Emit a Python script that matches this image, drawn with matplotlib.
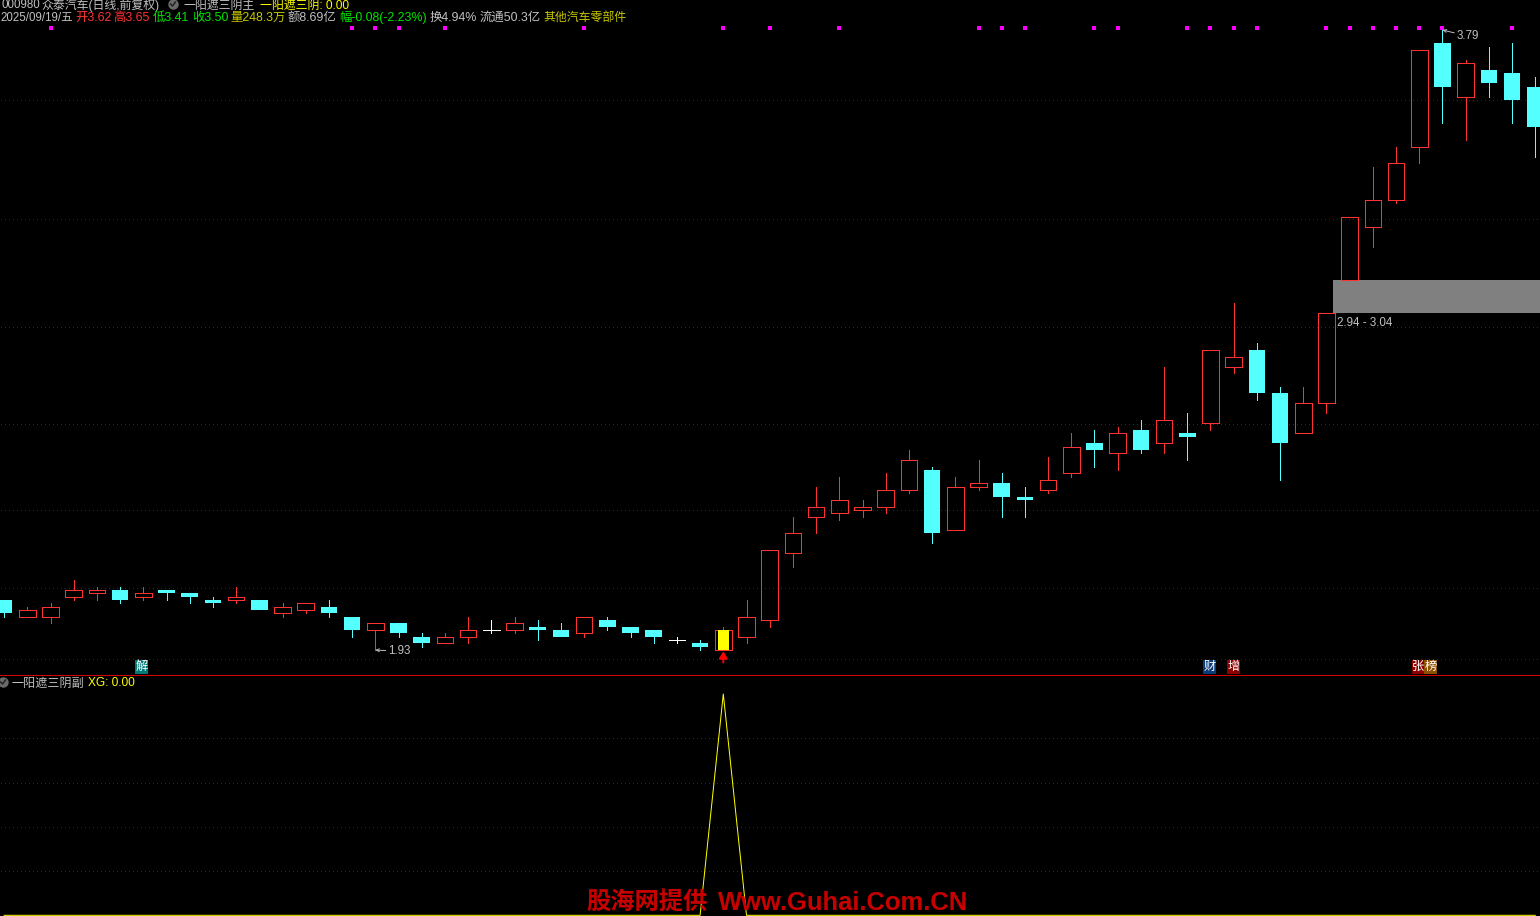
import matplotlib
matplotlib.use("Agg")
import matplotlib.pyplot as plt
from matplotlib.patches import Rectangle

# ---- data ----
opens = [2.08,2.03,2.03,2.09,2.10,2.11,2.09,2.11,2.10,2.08,2.08,2.08,2.04,2.05,2.06,2.03,1.99,2.01,1.97,1.95,
         1.97,1.99,1.99,2.00,1.99,1.98,2.02,2.00,1.99,1.96,1.95,1.93,1.97,2.02,2.22,2.33,2.34,2.35,2.36,2.41,
         2.47,2.29,2.42,2.43,2.39,2.41,2.46,2.55,2.52,2.59,2.55,2.58,2.61,2.78,2.83,2.70,2.58,2.67,3.04,3.20,
         3.28,3.44,3.75,3.59,3.67,3.66,3.62]
closes = [2.04,2.05,2.06,2.11,2.11,2.08,2.10,2.10,2.09,2.07,2.09,2.05,2.06,2.07,2.04,1.99,2.01,1.98,1.95,1.97,
          1.99,1.99,2.01,1.99,1.97,2.03,2.00,1.98,1.97,1.96,1.94,1.99,2.03,2.23,2.28,2.36,2.38,2.36,2.41,2.50,
          2.28,2.42,2.43,2.39,2.38,2.44,2.54,2.53,2.58,2.53,2.62,2.57,2.83,2.81,2.70,2.55,2.67,2.94,3.23,3.28,
          3.39,3.73,3.62,3.69,3.63,3.58,3.50]
highs = [2.08,2.06,2.07,2.14,2.12,2.12,2.12,2.11,2.10,2.09,2.12,2.08,2.07,2.07,2.08,2.03,2.01,2.01,1.98,1.98,
         2.03,2.02,2.03,2.02,2.01,2.03,2.03,2.00,1.99,1.97,1.96,2.00,2.08,2.23,2.33,2.42,2.45,2.38,2.46,2.53,
         2.48,2.45,2.50,2.46,2.42,2.51,2.58,2.59,2.60,2.62,2.78,2.64,2.83,2.97,2.85,2.72,2.72,2.94,3.23,3.38,
         3.44,3.73,3.79,3.70,3.74,3.75,3.65]
lows = [2.03,2.03,2.01,2.08,2.08,2.07,2.08,2.08,2.07,2.06,2.07,2.05,2.03,2.04,2.03,1.97,1.93,1.97,1.94,1.95,
        1.95,1.98,1.98,1.96,1.97,1.97,1.99,1.97,1.95,1.95,1.93,1.93,1.95,2.00,2.18,2.28,2.32,2.33,2.34,2.40,
        2.25,2.29,2.41,2.33,2.33,2.40,2.45,2.48,2.47,2.52,2.52,2.50,2.59,2.76,2.68,2.44,2.58,2.64,3.04,3.14,
        3.27,3.39,3.51,3.46,3.59,3.51,3.41]
signal_idx = [2,15,16,17,19,25,31,33,36,42,43,44,47,48,51,52,53,54,57,58,59,60,61,62,65]
grid_prices = [3.579,3.223,2.898,2.609,2.349,2.115,1.902]
xg_values = [0]*31 + [1] + [0]*35
xg_grid = [0.2,0.4,0.6,0.8]
selected_candle = 31
gap_low, gap_high = 2.94, 3.04
# ------------------------------------

RED = '#ff3232'; CYAN = '#54ffff'; GRIDC = '#960000'; GRAY = '#c0c0c0'
W, H = 1540, 916
PX = 0.72
LW = 0.72
CJK = ['Liberation Sans', 'Noto Sans CJK SC', 'DejaVu Sans']
plt.rcParams['font.family'] = CJK

fig = plt.figure(figsize=(W/100, H/100), dpi=100, facecolor='black')
ax = fig.add_axes([0, (H-674)/H, 1, 674/H], facecolor='black')
ax2 = fig.add_axes([0, 0, 1, 241/H], facecolor='black')
ov = fig.add_axes([0, 0, 1, 1]); ov.set_xlim(0, W); ov.set_ylim(H, 0); ov.axis('off'); ov.patch.set_alpha(0)

xlim = (-4.1/23.2, (W-4.1)/23.2)
ax.set_xlim(*xlim); ax.set_ylim(3.88-0.003*674, 3.88)
ax2.set_xlim(*xlim); ax2.set_ylim(-0.7/221.3, 1+19/221.3)
for a in (ax, ax2):
    a.axis('off')

def grid(a, v):
    a.axhline(v, color=GRIDC, lw=PX, ls=(3, (1, 3)), dash_capstyle='butt', antialiased=False, zorder=1)
for v in grid_prices:
    grid(ax, v)
for v in xg_grid:
    grid(ax2, v)

ax.add_patch(Rectangle((57.3, gap_low), xlim[1]-57.3, gap_high-gap_low, fc='#808080', ec='none',
                       antialiased=False, zorder=2))

bw = 0.72
for i, (o, c, h, l) in enumerate(zip(opens, closes, highs, lows)):
    top, bot = max(o, c), min(o, c)
    if c == o:
        ax.plot([i, i], [l, h], color='white', lw=LW, antialiased=False, zorder=3, solid_capstyle='butt')
        ax.plot([i-bw/2, i+bw/2], [c, c], color='white', lw=LW, antialiased=False, zorder=3, solid_capstyle='butt')
        continue
    col = RED if c > o else CYAN
    ax.plot([i, i], [top, h], color=col, lw=LW, antialiased=False, zorder=3, solid_capstyle='butt')
    ax.plot([i, i], [l, bot], color=col, lw=LW, antialiased=False, zorder=3, solid_capstyle='butt')
    if c > o:
        ax.add_patch(Rectangle((i-bw/2, bot), bw, top-bot, fc='none', ec=col, lw=LW, antialiased=False, zorder=4))
    else:
        ax.add_patch(Rectangle((i-bw/2, bot), bw, top-bot, fc=col, ec='none', antialiased=False, zorder=4))

s = selected_candle
ax.add_patch(Rectangle((s-0.24, min(opens[s], closes[s])), 0.48, abs(closes[s]-opens[s]),
                       fc='#ffff00', ec='none', antialiased=False, zorder=5))
# buy arrow under the selected candle
ax.annotate('', xy=(s, lows[s]), xytext=(0, -9), textcoords='offset points',
            arrowprops=dict(arrowstyle='-|>,head_width=0.25,head_length=0.4', color='#ff0000', lw=1.4,
                            shrinkA=0, shrinkB=1.0), zorder=6)

ax.scatter(signal_idx, [3.88-0.003*28]*len(signal_idx), marker='s', s=4.7, color='#ff00ff',
           linewidths=0, zorder=6)

ax2.plot(range(len(xg_values)), xg_values, color='#ffff00', lw=PX, zorder=3)

# extreme labels
ax.annotate('3.79', xy=(62, 3.79), xytext=(10.5, -4.5), textcoords='offset points', color=GRAY, fontsize=8.4,
            va='center', arrowprops=dict(arrowstyle='->,head_width=0.12,head_length=0.25', color=GRAY, lw=0.7,
                                         shrinkA=0, shrinkB=0), zorder=7)
ax.annotate('1.93', xy=(16, 1.93), xytext=(9.5, -1), textcoords='offset points', color=GRAY, fontsize=8.4,
            va='center', arrowprops=dict(arrowstyle='->,head_width=0.12,head_length=0.25', color=GRAY, lw=0.7,
                                         shrinkA=0, shrinkB=0), zorder=7)

def t(x, y, s, c=GRAY, fs=8.9, **kw):
    ov.text(x, y, s, color=c, fontsize=fs, va='center', ha=kw.pop('ha', 'left'), **kw)

t(1337, 323.5, '2.94 - 3.04', fs=8.4)

GR = '#00e600'; YL = '#ffff00'; OL = '#c8c800'
Y1, Y2 = 5.5, 18
t(1, Y1, '000980', GRAY, fs=8.3); t(41, Y1, '众泰汽车(日线,前复权)', GRAY, fs=8.6)
t(183, Y1, '一阳遮三阴主', GRAY, fs=8.6); t(260, Y1, '一阳遮三阴: 0.00', YL, fs=8.6)
t(0, Y2, '2025/09/19/五', GRAY, fs=8.3)
t(75, Y2, '开3.62', RED); t(113, Y2, '高3.65', RED)
t(153, Y2, '低3.41', GR); t(192, Y2, '收3.50', GR)
t(230, Y2, '量248.3万', OL); t(288, Y2, '额8.69亿', GRAY)
t(339, Y2, '幅-0.08(-2.23%)', GR); t(430, Y2, '换4.94%', GRAY)
t(480, Y2, '流通50.3亿', GRAY); t(543, Y2, '其他汽车零部件', OL, fs=8.6)

for cx, cy in [(173, 4), (3, 682)]:
    ov.plot([cx], [cy], 'o', ms=7.5, color='#6a6a6a', mew=0, clip_on=False)
    ov.plot([cx-2.5, cx-0.5, cx+2.5], [cy, cy+2, cy-2], color='#1e1e1e', lw=1.0)

t(12, 683.5, '一阳遮三阴副', GRAY, fs=8.7); t(88, 683.5, 'XG: 0.00', YL, fs=8.6)

ov.plot([0, W], [674.5, 674.5], color='#d80000', lw=LW, antialiased=False)

for x0, x1, ch, col in [(135, 148, '解', '#007878'), (1203, 1216, '财', '#0a3c78'), (1227, 1240, '增', '#8c0000'),
                        (1412, 1424, '张', '#8c0000'), (1424, 1437, '榜', '#8c5000')]:
    ov.add_patch(Rectangle((x0, 660), x1-x0, 13.5, fc=col, ec='none', antialiased=False))
    ov.text((x0+x1)/2, 667, ch, color='white', fontsize=8.8, ha='center', va='center')

ov.text(586, 902.5, '股海网提供', color='#c80000', fontsize=17.5, fontweight='bold', va='center',
        family=['Noto Sans CJK SC'])
ov.text(718, 902.5, 'Www.Guhai.Com.CN', color='#c80000', fontsize=18.4, fontweight='bold', va='center',
        family=['Liberation Sans'])

fig.savefig('out.png', dpi=100, facecolor='black')
